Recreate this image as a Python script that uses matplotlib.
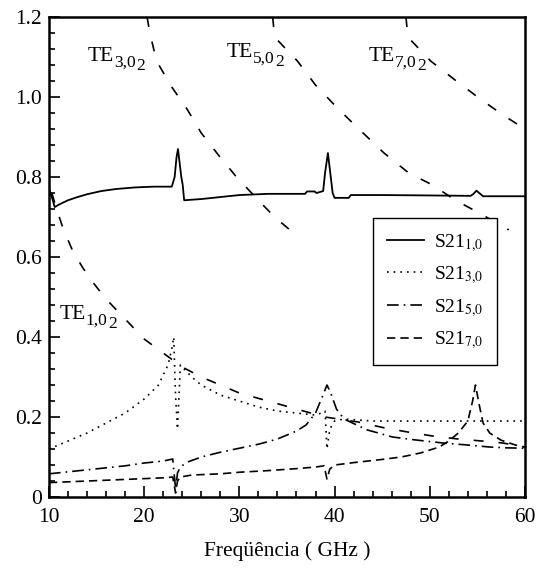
import matplotlib
matplotlib.use('Agg')
import matplotlib.pyplot as plt
from matplotlib.ticker import MultipleLocator, FuncFormatter

plt.rcParams['font.family'] = ['Liberation Serif', 'DejaVu Serif']
plt.rcParams['mathtext.fontset'] = 'stix'

# S21 modo 1,0 (linha cheia)
x1 = [10.0, 10.3, 10.6, 11.2, 12, 13, 14, 15.5, 17, 19, 21, 22.9, 23.2, 23.4, 23.55, 23.7, 23.9, 24.05, 24.2,
      26, 28, 30, 33, 36.9, 37.1, 37.9, 38.1, 38.8, 39.0, 39.3, 39.6, 39.8, 40.0, 41.5, 41.7, 45, 50, 54.3,
      54.6, 54.9, 55.3, 55.6, 58, 60]
y1 = [0.77, 0.75, 0.725, 0.733, 0.742, 0.75, 0.757, 0.765, 0.77, 0.774, 0.776, 0.776, 0.80, 0.85, 0.87, 0.84, 0.80,
      0.78, 0.742, 0.745, 0.75, 0.755, 0.758, 0.758, 0.764, 0.764, 0.76, 0.765, 0.81, 0.86, 0.80, 0.76, 0.748, 0.748,
      0.755, 0.755, 0.754, 0.753, 0.758, 0.766, 0.758, 0.752, 0.752, 0.752]

# S21 modo 3,0 (pontilhada)
x3 = [10, 12, 14, 16, 18, 20, 21.5, 22.5, 22.9, 23.1, 23.3, 23.5, 23.8, 25, 26, 28, 30, 32, 34, 36, 38, 38.6,
      39.0, 39.2, 39.5, 40, 41, 44, 50, 55, 60]
y3 = [0.12, 0.14, 0.16, 0.185, 0.21, 0.245, 0.28, 0.33, 0.37, 0.40, 0.25, 0.17, 0.33, 0.30, 0.28, 0.255, 0.24,
      0.225, 0.215, 0.21, 0.205, 0.21, 0.215, 0.12, 0.17, 0.19, 0.195, 0.19, 0.19, 0.19, 0.19]

# S21 modo 5,0 (traco-ponto)
x5 = [10, 12, 14, 16, 18, 20, 22, 23.0, 23.3, 23.5, 23.8, 24.5, 26, 28, 30, 32, 34, 36, 37, 38, 38.7, 39.2, 39.6,
      40.2, 41, 43.4, 46.1, 48.4, 51.4, 54, 56.3, 58, 60]
y5 = [0.058, 0.063, 0.068, 0.073, 0.078, 0.085, 0.09, 0.095, 0.02, 0.06, 0.075, 0.087, 0.1, 0.112, 0.122, 0.132,
      0.145, 0.165, 0.18, 0.21, 0.25, 0.28, 0.26, 0.22, 0.195, 0.168, 0.15, 0.143, 0.135, 0.13, 0.125, 0.123, 0.122]

# S21 modo 7,0 (tracejada)
x7 = [10, 12, 14, 16, 18, 20, 22, 23.0, 23.3, 23.5, 23.8, 25, 28, 30, 33, 36, 38, 38.9, 39.2, 39.5, 40, 42, 45, 47,
      49, 51, 52, 53, 54, 54.5, 54.8, 55.2, 55.6, 56.3, 57.5, 59, 60]
y7 = [0.036, 0.038, 0.04, 0.042, 0.044, 0.046, 0.048, 0.05, 0.01, 0.04, 0.05, 0.055, 0.058, 0.062, 0.066, 0.071,
      0.075, 0.078, 0.045, 0.07, 0.08, 0.086, 0.094, 0.1, 0.11, 0.125, 0.14, 0.16, 0.19, 0.24, 0.28, 0.23, 0.185,
      0.16, 0.142, 0.13, 0.125]

# curvas TE (cortes)
x_te1 = [10.3, 10.8, 11.5, 12.5, 13.5, 14.5, 16, 18, 20, 22, 24, 26, 28, 30, 33, 36, 39, 42.5, 45.3, 47.7, 50.3,
         53, 55.5, 57.7, 60]
y_te1 = [0.76, 0.72, 0.67, 0.615, 0.575, 0.54, 0.495, 0.445, 0.395, 0.36, 0.325, 0.30, 0.28, 0.26, 0.24, 0.22,
         0.2, 0.1875, 0.1725, 0.1625, 0.1525, 0.145, 0.14, 0.135, 0.125]
x_te3 = [20.3, 20.6, 21.3, 22.9, 24.5, 26, 27.8, 29.7, 32.2, 33.7, 35.3]
y_te3 = [1.2, 1.16, 1.09, 1.025, 0.97, 0.91, 0.855, 0.8, 0.737, 0.70, 0.668]
x_te5 = [33.5, 33.7, 36.1, 38, 40.4, 43, 45.2, 47.8, 50.3, 52.7, 55.2, 58.3]
y_te5 = [1.2, 1.15, 1.09, 1.03, 0.97, 0.91, 0.86, 0.81, 0.78, 0.742, 0.71, 0.668]
x_te7 = [47.5, 47.7, 50.1, 52.8, 55.2, 57.7, 60]
y_te7 = [1.2, 1.15, 1.09, 1.04, 0.997, 0.955, 0.92]

te_modes = ['1,0', '3,0', '5,0', '7,0']
te_pos = [(11.1, 0.445), (14.1, 1.09), (28.7, 1.10), (43.6, 1.09)]

s_labels = [r'S21$_{1{,}0}$', r'S21$_{3{,}0}$', r'S21$_{5{,}0}$', r'S21$_{7{,}0}$']

fig = plt.figure(figsize=(5.36, 5.69), dpi=100)
ax = fig.add_axes([0.0914, 0.1265, 0.888, 0.8435])

ax.plot(x1, y1, color='black', lw=1.3, label=s_labels[0])
ax.plot(x3, y3, color='black', lw=1.2, linestyle=(0, (1, 3)), label=s_labels[1])
ax.plot(x5, y5, color='black', lw=1.2, linestyle=(0, (7, 3, 1, 3)), label=s_labels[2])
ax.plot(x7, y7, color='black', lw=1.2, linestyle=(0, (5, 3)), label=s_labels[3])

for xs, ys in [(x_te1, y_te1), (x_te3, y_te3), (x_te5, y_te5), (x_te7, y_te7)]:
    ax.plot(xs, ys, color='black', lw=1.2, linestyle=(0, (6, 9)))

# rotulos TE com indice duplo: TE, depois "m,0" abaixo, depois "2" mais abaixo
for mode, (tx, ty) in zip(te_modes, te_pos):
    t = ax.text(tx, ty, 'TE', fontsize=15.5, va='baseline', ha='left')
    s1 = ax.annotate(mode, xy=(1, 0), xycoords=t, xytext=(0, -3.5), textcoords='offset points',
                     fontsize=12.5, va='bottom', ha='left')
    ax.annotate('2', xy=(1, 0), xycoords=s1, xytext=(0.3, -2.5), textcoords='offset points',
                fontsize=12.5, va='bottom', ha='left')

ax.set_xlim(10, 60)
ax.set_ylim(0, 1.2)
ax.xaxis.set_major_locator(MultipleLocator(10))
ax.xaxis.set_minor_locator(MultipleLocator(2))
ax.yaxis.set_major_locator(MultipleLocator(0.2))
ax.yaxis.set_minor_locator(MultipleLocator(0.04))
ax.yaxis.set_major_formatter(FuncFormatter(lambda v, p: '0' if abs(v) < 1e-9 else f'{v:.1f}'))
ax.tick_params(which='both', direction='in', labelsize=15.5, width=1.2)
ax.tick_params(which='major', length=8)
ax.tick_params(which='minor', length=4)
ax.tick_params(axis='x', pad=8)
ax.tick_params(axis='y', pad=5)
for s in ax.spines.values():
    s.set_linewidth(1.8)

ax.set_xlabel('Freqüência ( GHz )', fontsize=15.5, labelpad=10)

leg = ax.legend(loc='upper left', bbox_to_anchor=(0.681, 0.581), fontsize=14, frameon=True, fancybox=False,
                edgecolor='black', framealpha=1, handlelength=1.9, handletextpad=0.55, labelspacing=0.55,
                borderpad=0.7, borderaxespad=0)
leg.get_frame().set_linewidth(1.0)

fig.savefig('out.png', dpi=100)
